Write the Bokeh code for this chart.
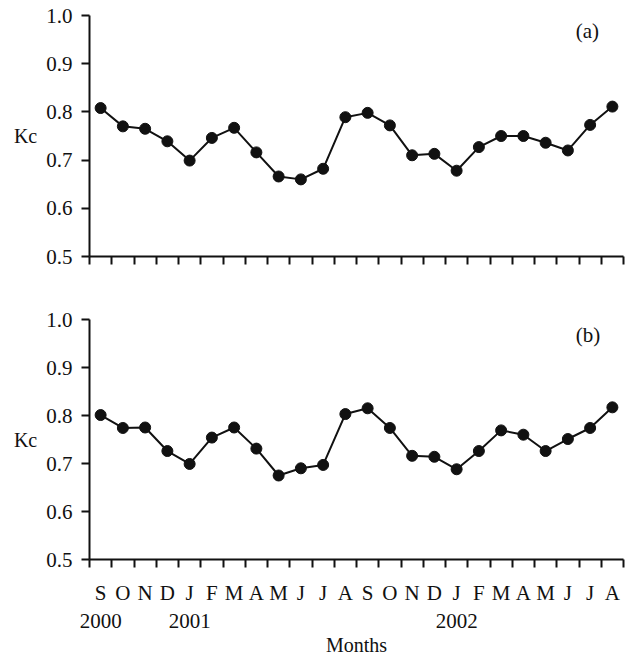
from bokeh.plotting import figure
from bokeh.layouts import column
from bokeh.models import FixedTicker, LinearAxis, Label, Range1d, PrintfTickFormatter
from bokeh.embed import file_html
from bokeh.resources import INLINE

months = ["S", "O", "N", "D", "J", "F", "M", "A", "M", "J", "J", "A",
          "S", "O", "N", "D", "J", "F", "M", "A", "M", "J", "J", "A"]
year_labels = {0.5: "2000", 4.5: "2001", 16.5: "2002"}
kc_a = [0.808, 0.770, 0.765, 0.739, 0.699, 0.746, 0.767, 0.716, 0.666, 0.660, 0.682, 0.789,
        0.798, 0.772, 0.710, 0.713, 0.678, 0.727, 0.750, 0.750, 0.736, 0.720, 0.773, 0.811]
kc_b = [0.801, 0.774, 0.775, 0.726, 0.699, 0.754, 0.775, 0.731, 0.675, 0.690, 0.697, 0.803,
        0.815, 0.774, 0.716, 0.714, 0.688, 0.726, 0.769, 0.760, 0.726, 0.751, 0.774, 0.817]
y_ticks = [0.5, 0.6, 0.7, 0.8, 0.9, 1.0]

FONT = "Liberation Serif"
INK = "#111111"
xs = [i + 0.5 for i in range(len(months))]
bounds = list(range(len(months) + 1))


def make_panel(vals, tag, width, height, left, top, right, bottom, with_labels):
    p = figure(width=width, height=height, output_backend="svg", toolbar_location=None,
               x_range=Range1d(0, len(months)), y_range=Range1d(0.5, 1.0),
               min_border_left=left, min_border_top=top, min_border_right=right,
               min_border_bottom=bottom)
    p.outline_line_color = None
    p.grid.visible = False

    ya = p.yaxis[0]
    ya.ticker = FixedTicker(ticks=y_ticks)
    ya.formatter = PrintfTickFormatter(format="%.1f")
    ya.minor_tick_line_color = None
    ya.major_tick_out = 8
    ya.major_tick_in = 0
    ya.major_tick_line_width = 2
    ya.axis_line_width = 2
    ya.axis_line_color = INK
    ya.major_tick_line_color = INK
    ya.major_label_text_font = FONT
    ya.major_label_text_font_size = "21px"
    ya.major_label_text_color = INK
    ya.major_label_standoff = 9
    ya.axis_label = "Kc"
    ya.axis_label_orientation = "horizontal"
    ya.axis_label_text_font = FONT
    ya.axis_label_text_font_style = "normal"
    ya.axis_label_text_font_size = "20px"
    ya.axis_label_text_color = INK
    ya.axis_label_standoff = 6

    # x axis: month labels at centres (major), boundary ticks (minor)
    xa = p.xaxis[0]
    xa.ticker = FixedTicker(ticks=xs if with_labels else [], minor_ticks=bounds)
    xa.major_label_overrides = {x: m for x, m in zip(xs, months)}
    xa.major_tick_line_color = None
    xa.major_tick_out = 8
    xa.major_tick_in = 0
    xa.minor_tick_line_color = INK
    xa.minor_tick_line_width = 2
    xa.minor_tick_out = 8
    xa.minor_tick_in = 0
    xa.axis_line_width = 2
    xa.axis_line_color = INK
    xa.major_label_text_font = FONT
    xa.major_label_text_font_size = "21px"
    xa.major_label_text_color = INK
    xa.major_label_standoff = 13

    if with_labels:
        yr = LinearAxis(ticker=FixedTicker(ticks=list(year_labels.keys())),
                        major_label_overrides=year_labels)
        yr.axis_line_color = None
        yr.major_tick_line_color = None
        yr.minor_tick_line_color = None
        yr.major_tick_out = 0
        yr.major_tick_in = 0
        yr.major_label_text_font = FONT
        yr.major_label_text_font_size = "21px"
        yr.major_label_text_color = INK
        yr.major_label_standoff = 6
        yr.axis_label = "Months"
        yr.axis_label_text_font = FONT
        yr.axis_label_text_font_style = "normal"
        yr.axis_label_text_font_size = "20px"
        yr.axis_label_text_color = INK
        yr.axis_label_standoff = 3
        p.add_layout(yr, "below")

    p.line(xs, vals, line_color=INK, line_width=2)
    p.scatter(xs, vals, size=11, fill_color=INK, line_color=INK)

    p.add_layout(Label(x=21.85, y=0.967, text=tag, text_font=FONT, text_font_size="21px",
                       text_color=INK, text_baseline="middle", text_align="left"))
    return p


pa = make_panel(kc_a, "(a)", 627, 308, 89, 15, 3, 52, False)
pb = make_panel(kc_b, "(b)", 627, 350, 86, 11, 4, 98, True)

layout = column(pa, pb, spacing=0)
open("out.html", "w").write(file_html(layout, INLINE))
